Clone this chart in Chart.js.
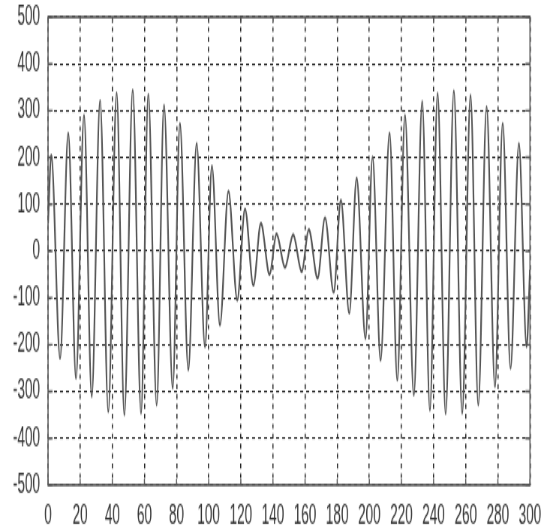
<!DOCTYPE html>
<html>
<head>
<meta charset="utf-8">
<script src="https://cdn.jsdelivr.net/npm/chart.js@4.4.1/dist/chart.umd.min.js"></script>
<style>
  html, body { margin: 0; padding: 0; background: #fff; }
  body { width: 544px; height: 527px; overflow: hidden; }
  /* la imagen original está estirada en vertical y comprimida en horizontal */
  #wrap { width: 725px; height: 340px; transform: scale(0.75034, 1.55); transform-origin: 0 0; }
</style>
</head>
<body>
<div id="wrap"><canvas id="grafica" width="725" height="340"></canvas></div>
<script>
// Puntos (extremos de la señal)
const sampleX = [0, 2, 7.5, 12.6, 17.4, 22.4, 27.2, 32.4, 37.5, 42.7, 47.5, 52.7, 57.9, 62.4, 67.6,
    72.2, 77.6, 82.1, 87.3, 92.5, 97.7, 102, 107, 112.3, 117.8, 122.6, 127.8, 132.5, 137.9, 142.2,
    147.5, 152.6, 157.9, 162.3, 167.8, 172.4, 177.8, 182.3, 187.5, 192.1, 197.6, 202, 207, 212.6,
    217.4, 222.2, 227.7, 232.9, 237.7, 242.5, 247.5, 252.6, 257.8, 263, 267.8, 273, 278.2, 283,
    287.9, 293.1, 297.9, 300];
const sampleY = [60, 205, -229, 252, -272, 290, -311, 322, -343, 338, -350, 344, -347, 335, -329,
    312, -293, 273, -254, 230, -204, 182, -158, 128, -105, 90, -73, 59, -50, 37,
    -35, 35, -44, 46, -58, 71, -88, 109, -133, 156, -187, 201, -233, 252,
    -276, 290, -308, 320, -340, 337, -348, 342, -347, 333, -329, 308, -290, 273,
    -251, 230, -204, -40];

// Etiquetas de los ejes
const xTicks = [0, 20, 40, 60, 80, 100, 120, 140, 160, 180, 200, 220, 240, 260, 280, 300];
const yTicks = [-500, -400, -300, -200, -100, 0, 100, 200, 300, 400, 500];

const fuente = { family: "'Liberation Sans', Arial, sans-serif", size: 18 };

// Marco completo y marcas hacia dentro, como en MATLAB
const marco = {
    id: "marco",
    afterDraw(chart) {
        const { ctx, chartArea: a, scales } = chart;
        ctx.save();
        ctx.strokeStyle = "#555";
        ctx.lineWidth = 1.6;
        ctx.strokeRect(a.left, a.top, a.right - a.left, a.bottom - a.top);
        ctx.lineWidth = 1.4;
        ctx.beginPath();
        xTicks.forEach(v => {
            const px = scales.x.getPixelForValue(v);
            ctx.moveTo(px, a.top); ctx.lineTo(px, a.top + 4);
            ctx.moveTo(px, a.bottom); ctx.lineTo(px, a.bottom - 4);
        });
        yTicks.forEach(v => {
            const py = scales.y.getPixelForValue(v);
            ctx.moveTo(a.left, py); ctx.lineTo(a.left + 6, py);
            ctx.moveTo(a.right, py); ctx.lineTo(a.right - 6, py);
        });
        ctx.stroke();
        ctx.restore();
    }
};

// quitar el relleno automático que Chart.js deja para las etiquetas de los extremos
const sinRelleno = s => {
    s.paddingTop = 0; s.paddingBottom = 0; s.paddingLeft = 0; s.paddingRight = 0;
};

new Chart(document.getElementById("grafica"), {
    type: "line",
    data: {
        datasets: [
            {
                data: sampleX.map((x, i) => ({ x: x, y: sampleY[i] })),
                borderColor: "#555",
                borderWidth: 2.2,
                pointRadius: 0,
                cubicInterpolationMode: "monotone",
                fill: false
            }
        ]
    },
    options: {
        responsive: false,
        animation: false,
        layout: { padding: { top: 11, right: 18.7, left: 0, bottom: 0 } },
        plugins: { legend: { display: false }, tooltip: { enabled: false } },
        scales: {
            x: {
                type: "linear",
                min: xTicks[0],
                max: xTicks[xTicks.length - 1],
                afterBuildTicks: s => { s.ticks = xTicks.map(v => ({ value: v })); },
                afterFit: s => { s.height = 27.1; sinRelleno(s); },
                grid: { color: "#222", lineWidth: 1.5, drawTicks: false },
                border: { display: false, dash: [3.2, 3.2] },
                ticks: { color: "#333", font: fuente, padding: 9.4, maxRotation: 0, autoSkip: false }
            },
            y: {
                min: yTicks[0],
                max: yTicks[yTicks.length - 1],
                afterBuildTicks: s => { s.ticks = yTicks.map(v => ({ value: v })); },
                afterFit: s => { s.width = 64; sinRelleno(s); },
                grid: { color: "#222", lineWidth: 1.1, drawTicks: false },
                border: { display: false, dash: [4, 4] },
                ticks: { color: "#333", font: fuente, padding: 10.7, autoSkip: false }
            }
        }
    },
    plugins: [marco]
});
</script>
</body>
</html>
